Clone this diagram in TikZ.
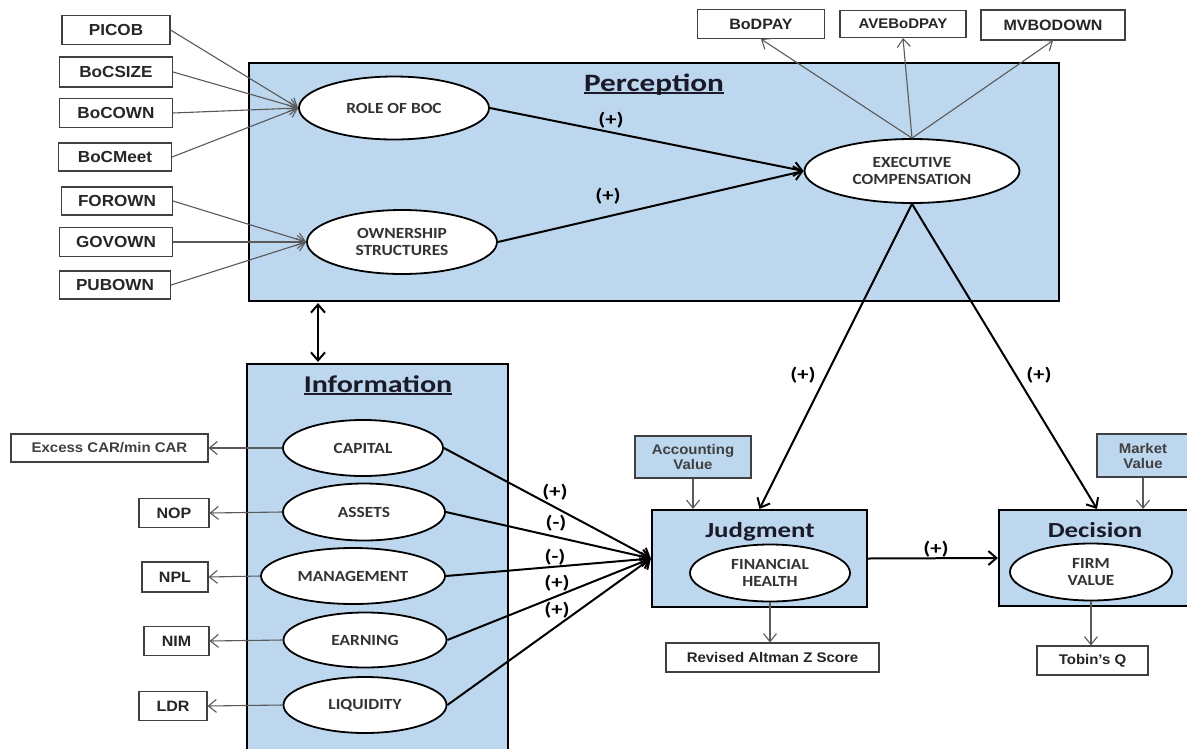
\documentclass[tikz,border=0pt]{standalone}
\usepackage{fontspec}
\setmainfont{Carlito}
\newfontfamily\boxfont[FakeStretch=1.07]{Liberation Sans}
\newfontfamily\ellfont[FakeStretch=1.12]{Carlito}
\newfontfamily\titlefont[FakeStretch=1.25]{Carlito}
\usetikzlibrary{arrows.meta, shapes.geometric}
\definecolor{panelblue}{HTML}{BDD7EE}
\definecolor{boxgray}{HTML}{404040}
\definecolor{arrowgray}{HTML}{595959}
\definecolor{titlecol}{HTML}{1A1A28}

\begin{document}
\begin{tikzpicture}[x=1pt, y=-1pt,
    panel/.style={draw, line width=2.2pt, fill=panelblue},
    title/.style={anchor=base, inner sep=0pt, text=titlecol, font=\titlefont\bfseries\fontsize{#1}{#1}\selectfont},
    varbox/.style={draw=boxgray, line width=1.1pt, fill=white, inner sep=0pt, align=center,
        minimum width=113, minimum height=29, text=black!85, font=\boxfont\bfseries\fontsize{#1}{#1}\selectfont},
    varbox/.default=16,
    valbox/.style={varbox=14, fill=panelblue, text=black!75, font=\boxfont\bfseries\fontsize{14}{15}\selectfont},
    construct/.style={ellipse, draw, line width=1.8pt, fill=white, inner sep=0pt, align=center,
        text=black!80, font=\ellfont\bfseries\fontsize{15.5}{16.5}\selectfont},
    sign/.style={inner sep=0pt, font=\titlefont\bfseries\fontsize{18}{18}\selectfont},
    arrow/.style={-{Straight Barb[length=8pt,width=14pt]}, line width=2pt},
    indarrow/.style={-{Straight Barb[length=8pt,width=13pt]}, line width=1.1pt, draw=arrowgray}
]
\useasboundingbox (0,0) rectangle (1187,748);
\fill[white] (0,0) rectangle (1187,748);

% Panels
\node[panel, minimum width=810, minimum height=238] (perception) at (654,182) {};
\node[panel, minimum width=261, minimum height=400] (information) at (377.5,564) {};
\node[panel, minimum width=215, minimum height=97] (judgment) at (759.5,558.5) {};
\node[panel, minimum width=196, minimum height=96] (decision) at (1097,558) {};
\node[title=25] (ptitle) at (654,91) {Perception};
\node[title=24] (ititle) at (378,392) {Information};
\node[title=21.5] (jtitle) at (760,537) {Judgment};
\node[title=21.5] (dtitle) at (1095,537) {Decision};
\draw[line width=1.3pt, titlecol] ([yshift=-2pt]ptitle.base west) -- ([yshift=-2pt]ptitle.base east);
\draw[line width=1.3pt, titlecol] ([yshift=-2pt]ititle.base west) -- ([yshift=-2pt]ititle.base east);

% Constructs
\node[construct, minimum width=190, minimum height=63] (role) at (394,108) {ROLE OF BOC};
\node[construct, minimum width=190, minimum height=64] (own) at (402,242) {OWNERSHIP\\STRUCTURES};
\node[construct, minimum width=215, minimum height=64] (exec) at (912,171) {EXECUTIVE\\COMPENSATION};
\node[construct, minimum width=160, minimum height=56] (capital) at (363,448) {CAPITAL};
\node[construct, minimum width=162, minimum height=57] (assets) at (364,512) {ASSETS};
\node[construct, minimum width=184, minimum height=56] (management) at (353,576) {MANAGEMENT};
\node[construct, minimum width=163, minimum height=55] (earning) at (365,640) {EARNING};
\node[construct, minimum width=163, minimum height=56] (liquidity) at (365,705) {LIQUIDITY};
\node[construct, minimum width=160, minimum height=57] (health) at (770,573) {FINANCIAL\\HEALTH};
\node[construct, minimum width=162, minimum height=57] (firm) at (1091,572) {FIRM\\VALUE};

% Indicators
\node[varbox, minimum width=108] (picob) at (116,30) {PICOB};
\node[varbox, minimum height=30] (bocsize) at (116,72) {BoCSIZE};
\node[varbox] (bocown) at (116,113) {BoCOWN};
\node[varbox, minimum height=28] (bocmeet) at (115,157) {BoCMeet};
\node[varbox, minimum width=111, minimum height=28] (forown) at (117,201) {FOROWN};
\node[varbox] (govown) at (116,242) {GOVOWN};
\node[varbox, minimum width=111, minimum height=28] (pubown) at (115,285) {PUBOWN};
\node[varbox=15, minimum width=127] (bodpay) at (761,24) {BoDPAY};
\node[varbox=14, minimum width=126, minimum height=27] (avebodpay) at (903,24) {AVEBoDPAY};
\node[varbox=15, minimum width=144, minimum height=30] (mvbodown) at (1053,25) {MVBODOWN};
\node[varbox=14, minimum width=197, minimum height=28, text=black!75] (excess) at (109.5,448) {Excess CAR/min CAR};
\node[varbox=15, minimum width=70] (nop) at (174,513) {NOP};
\node[varbox=15, minimum width=66, minimum height=30] (npl) at (175,577) {NPL};
\node[varbox=15, minimum width=65] (nim) at (176.5,641) {NIM};
\node[varbox=15, minimum width=68] (ldr) at (173,706) {LDR};
\node[valbox, minimum width=116, minimum height=42] (accounting) at (693,457) {Accounting\\Value};
\node[valbox, minimum width=92, minimum height=43] (market) at (1143,455.5) {Market\\Value};
\node[varbox=14, minimum width=213, minimum height=29] (altman) at (772.5,657.5) {Revised Altman Z Score};
\node[varbox=14, minimum width=111, minimum height=29] (tobin) at (1092.5,660.5) {Tobin’s Q};

% Signs
\node[sign] (s1) at (611,120) {(+)};
\node[sign] (s2) at (608,196) {(+)};
\node[sign] (s3) at (803,375) {(+)};
\node[sign] (s4) at (1039,375) {(+)};
\node[sign] (s5) at (936,549) {(+)};
\node[sign] (s6) at (555,492) {(+)};
\node[sign] (s7) at (556,523) {(-)};
\node[sign] (s8) at (555,557) {(-)};
\node[sign] (s9) at (557,583) {(+)};
\node[sign] (s10) at (557,610) {(+)};

% Arrows
\foreach \src in {picob, bocsize, bocown, bocmeet}
    \draw[indarrow] (\src.east) -- (role.west);
\foreach \src in {forown, govown, pubown}
    \draw[indarrow] (\src.east) -- (own.west);
\foreach \dst in {bodpay, avebodpay, mvbodown}
    \draw[indarrow] (exec.north) -- (\dst.south);
\draw[indarrow] (capital.west) -- (excess.east);
\draw[indarrow] (assets.west) -- (nop.east);
\draw[indarrow] (management.west) -- (npl.east);
\draw[indarrow] (earning.west) -- (nim.east);
\draw[indarrow] (liquidity.west) -- (ldr.east);
\draw[indarrow] (accounting.south) -- (accounting.south |- judgment.north);
\draw[indarrow] (market.south) -- (market.south |- decision.north);
\draw[indarrow] (health.south) -- (health.south |- altman.north);
\draw[indarrow] (firm.south) -- (firm.south |- tobin.north);

\draw[arrow] (role.east) -- (exec.west);
\draw[arrow] (own.east) -- (exec.west);
\draw[arrow] (exec.south) -- (judgment.north);
\draw[arrow] (exec.south) -- (decision.north);
\draw[arrow] (judgment.east) -- (decision.west);
\foreach \src in {capital, assets, management, earning, liquidity}
    \draw[arrow] (\src.east) -- (judgment.west);
\coordinate (link) at (318,0);
\draw[arrow, {Straight Barb[length=8pt,width=14pt]}-{Straight Barb[length=8pt,width=14pt]}, shorten <=1pt, shorten >=1pt]
    (perception.south -| link) -- (information.north -| link);

\end{tikzpicture}
\end{document}
